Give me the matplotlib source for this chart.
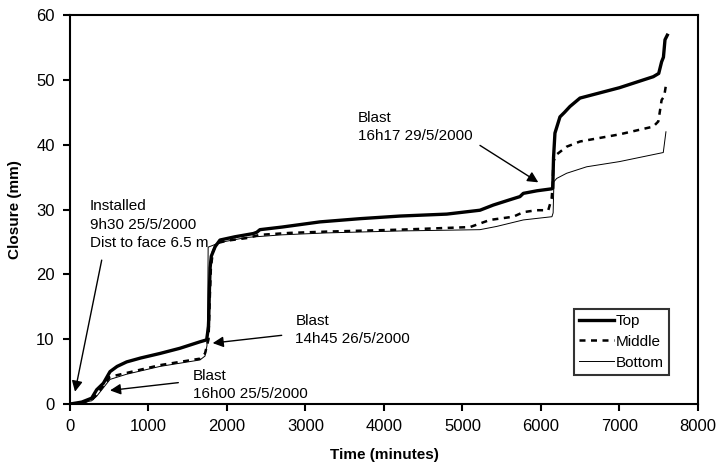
import numpy as np
import matplotlib
matplotlib.use("Agg")
import matplotlib.pyplot as plt

plt.rcParams['font.family'] = ['Liberation Sans', 'DejaVu Sans']

# closure readings (time in minutes, closure in mm)
top_t = [0, 150, 276, 340, 425, 510, 600, 722, 900, 1146, 1400, 1656, 1741, 1765, 1775, 1785,
         1800, 1850, 1911, 2100, 2335, 2380, 2420, 2700, 3185, 3700, 4204, 4800, 5223, 5393,
         5600, 5732, 5775, 5950, 6136, 6150, 6160, 6178, 6242, 6300, 6369, 6497, 7000, 7431,
         7500, 7537, 7560, 7580, 7609]
top_y = [0, 0.3, 0.9, 2.2, 3.2, 5.0, 5.8, 6.5, 7.1, 7.8, 8.6, 9.6, 9.9, 12, 17, 21,
         22.8, 24.3, 25.3, 25.8, 26.3, 26.5, 26.9, 27.3, 28.1, 28.6, 29.0, 29.3, 29.9, 30.7,
         31.5, 32.0, 32.5, 32.9, 33.2, 33.3, 38, 41.8, 44.3, 45.0, 45.9, 47.2, 48.8, 50.5,
         51.0, 52.8, 53.5, 56.2, 56.9]

mid_t = [0, 150, 276, 340, 425, 510, 722, 1146, 1656, 1720, 1765, 1780, 1795, 1820, 1868,
         2000, 2250, 2420, 2800, 3270, 4204, 5096, 5350, 5648, 5775, 5945, 6093, 6136, 6150,
         6157, 6200, 6327, 6497, 7000, 7431, 7495, 7537, 7570, 7592]
mid_y = [0, 0.2, 0.6, 1.5, 2.8, 4.2, 4.8, 6.0, 7.0, 7.8, 10, 16, 21, 23.5, 24.8,
         25.2, 25.6, 26.1, 26.4, 26.6, 26.9, 27.3, 28.4, 28.9, 29.6, 29.9, 29.9, 31.7, 34,
         37.4, 38.5, 39.7, 40.5, 41.6, 42.8, 43.6, 46.9, 47.5, 49.2]

bot_t = [0, 150, 276, 340, 425, 510, 722, 1146, 1656, 1720, 1745, 1755, 1760, 1825, 1900,
         2250, 2700, 3270, 4204, 5223, 5436, 5775, 6140, 6155, 6165, 6200, 6327, 6582, 7000,
         7558, 7592]
bot_y = [0, 0.2, 0.5, 1.2, 2.5, 3.8, 4.6, 5.8, 6.8, 7.4, 9, 15, 24.2, 24.5, 24.9,
         25.7, 26.1, 26.4, 26.7, 26.9, 27.4, 28.4, 28.9, 29.5, 34.3, 34.8, 35.6, 36.6, 37.4,
         38.8, 42.0]

# annotations: text, text position, arrow head, arrow tail
notes = [
    ("Installed\n9h30 25/5/2000\nDist to face 6.5 m", (255, 31.6), (64, 1.9), (404, 22.2)),
    ("Blast\n16h00 25/5/2000", (1565, 5.4), (510, 2.1), (1380, 3.3)),
    ("Blast\n14h45 26/5/2000", (2870, 13.9), (1818, 9.4), (2697, 10.6)),
    ("Blast\n16h17 29/5/2000", (3670, 45.2), (5966, 34.2), (5223, 39.9)),
]

fig = plt.figure(figsize=(7.2, 4.72), dpi=100)
ax = fig.add_axes([0.0972, 0.144, 0.8722, 0.824])

ax.plot(top_t, top_y, color='black', lw=2.4, label='Top')
ax.plot(mid_t, mid_y, color='black', lw=1.8, ls=(0, (2.4, 2.2)), label='Middle')
ax.plot(bot_t, bot_y, color='black', lw=0.7, label='Bottom')

for txt, tpos, head, tail in notes:
    ax.text(tpos[0], tpos[1], txt, fontsize=11, ha='left', va='top', linespacing=1.4)
    ax.annotate('', xy=head, xytext=tail,
                arrowprops=dict(arrowstyle='-|>', color='black', lw=1.0,
                                mutation_scale=16, shrinkA=0, shrinkB=0))

ax.set_xlim(0, 8000)
ax.set_ylim(0, 60)
ax.set_xticks(np.arange(0, 8001, 1000))
ax.set_yticks(np.arange(0, 61, 10))
ax.tick_params(direction='out', length=5, width=1.5, labelsize=12, pad=6)
for s in ax.spines.values():
    s.set_linewidth(1.5)

ax.set_xlabel('Time (minutes)', fontsize=11, fontweight='bold', labelpad=10)
ax.set_ylabel('Closure (mm)', fontsize=11, fontweight='bold', labelpad=10)

leg = ax.legend(loc='lower left', bbox_to_anchor=(0.8025, 0.0746), fontsize=11,
                frameon=True, fancybox=False, handlelength=2.3, handletextpad=0.1,
                borderpad=0.35, labelspacing=0.45, borderaxespad=0)
leg.get_frame().set_edgecolor('black')
leg.get_frame().set_linewidth(1.5)

fig.savefig('out.png', dpi=100)
